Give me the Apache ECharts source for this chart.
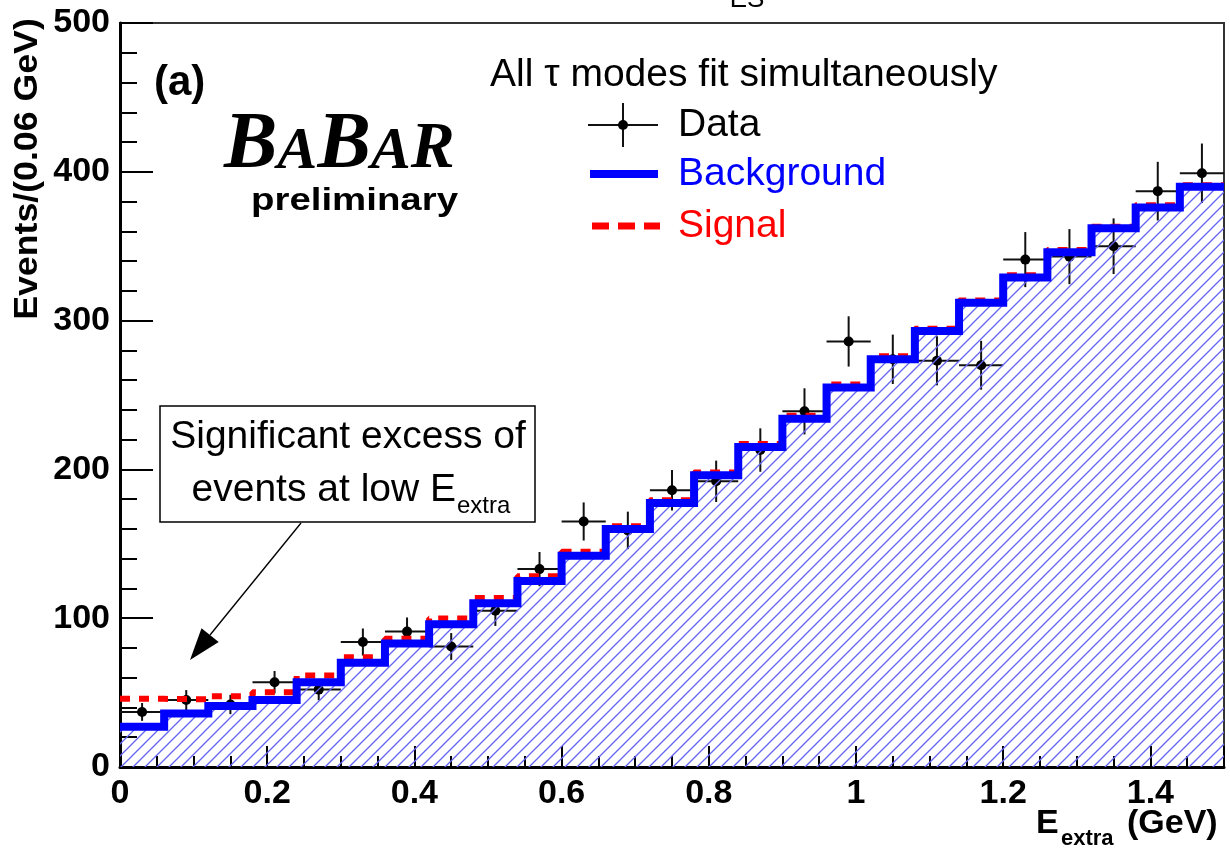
<!DOCTYPE html>
<html><head><meta charset="utf-8">
<script src="https://cdn.jsdelivr.net/npm/echarts@6/dist/echarts.min.js"></script>
<style>html,body{margin:0;padding:0;background:#fff}#c{width:1230px;height:857px}</style>
</head><body><div id="c"></div>
<script>
// ---- data ----
const binCenters = [0.03,0.09,0.15,0.21,0.27,0.33,0.39,0.45,0.51,0.57,0.63,0.69,0.75,0.81,0.87,0.93,0.99,1.05,1.11,1.17,1.23,1.29,1.35,1.41,1.47];
const binWidth = 0.06;
const backgroundCounts = [27,36,41,45,57,70,83,96,110,125,142,160,177.5,196,215,234,255,274,293,312,329,346,362,376,390];
const signalPlusBackground = [45.8,45.5,47.6,50.3,61.5,73.8,86.2,99.8,113.5,128.2,144.6,161.8,179.3,198,217,236,257,276,294.5,313.5,330.5,347.5,363,377.5,391];
const dataCounts = [37,45,42,57,52,84,91,81,105,133,165,159,186,192,213,239,286,274,273,270,341,343,350,387,399];
const dataErrors = [6,6.7,6.5,7.5,7.2,9.1,9.5,9,10.2,11.5,12.8,12.6,13.6,13.9,14.6,15.5,16.9,16.6,16.5,16.4,18.5,18.5,18.7,19.7,20];
const xTickValues = [0,0.2,0.4,0.6,0.8,1,1.2,1.4];
const yTickValues = [0,100,200,300,400,500];

const FONT = 'Liberation Sans, Arial, Helvetica, sans-serif';
const SERIF = 'Liberation Serif, Times New Roman, serif';

function stepPoints(vals){
  const pts = vals.map((v,i)=>[binCenters[i]-binWidth/2, v]);
  const n = vals.length-1;
  pts.push([binCenters[n]+binWidth/2, vals[n]]);
  return pts;
}
function makeHatch(){
  const s = 12;
  const c = document.createElement('canvas');
  c.width = s; c.height = s;
  const g = c.getContext('2d');
  g.strokeStyle = '#6464f2'; g.lineWidth = 1.3;
  g.beginPath();
  g.moveTo(0,s); g.lineTo(s,0);
  g.moveTo(-1,1); g.lineTo(1,-1);
  g.moveTo(s-1,s+1); g.lineTo(s+1,s-1);
  g.stroke();
  return c;
}

const chart = echarts.init(document.getElementById('c'), null, {renderer:'canvas'});
const tickStyle = {color:'#000', width:2};

const option = {
  animation:false,
  backgroundColor:'#fff',
  grid:{left:120,right:6,top:23,bottom:90,show:true,borderColor:'#333',borderWidth:2,backgroundColor:'transparent'},
  xAxis:{
    type:'value', min:0, max:1.5, interval:0.2,
    axisLine:{show:true,onZero:false,lineStyle:{color:'#000',width:3}},
    axisTick:{show:true,inside:true,length:21,lineStyle:tickStyle},
    minorTick:{show:true,splitNumber:4,length:11,lineStyle:tickStyle},
    splitLine:{show:false},
    axisLabel:{
      margin:10, color:'#000', fontSize:34, fontWeight:'bold', fontFamily:FONT,
      formatter:(v)=> xTickValues.some(t=>Math.abs(t-v)<1e-9) ? String(Math.round(v*10)/10) : ''
    }
  },
  yAxis:{
    type:'value', min:0, max:500, interval:100,
    axisLine:{show:true,onZero:false,lineStyle:{color:'#000',width:3}},
    axisTick:{show:true,inside:true,length:33,lineStyle:tickStyle},
    minorTick:{show:true,splitNumber:5,length:17,lineStyle:tickStyle},
    splitLine:{show:false},
    axisLabel:{
      margin:10, color:'#000', fontSize:34, fontWeight:'bold', fontFamily:FONT,
      padding:[6,0,0,0],
      formatter:(v)=> yTickValues.includes(v) ? String(v) : ''
    }
  },
  series:[
    {
      name:'BackgroundFill', type:'line', step:'end', symbol:'none',
      data: stepPoints(backgroundCounts),
      lineStyle:{width:0,opacity:0},
      areaStyle:{color:{image:makeHatch(),repeat:'repeat'},opacity:1}
    },
    {
      name:'Signal', type:'line', step:'end', symbol:'none',
      data: stepPoints(signalPlusBackground),
      lineStyle:{color:'#ff0000',width:6,type:[10,9]}
    },
    {
      name:'Background', type:'line', step:'end', symbol:'none',
      data: stepPoints(backgroundCounts),
      lineStyle:{color:'#0000ff',width:8,cap:'butt',join:'miter'}
    },
    {
      name:'Data', type:'custom',
      data: binCenters.map((x,i)=>[x,dataCounts[i],dataErrors[i]]),
      encode:{x:0,y:1},
      renderItem:(params, api)=>{
        const x = api.value(0), y = api.value(1), e = api.value(2);
        const c = api.coord([x,y]);
        const l = api.coord([x-binWidth/2,y]), r = api.coord([x+binWidth/2,y]);
        const t = api.coord([x,y+e]), b = api.coord([x,y-e]);
        return {type:'group', children:[
          {type:'line', shape:{x1:l[0],y1:l[1],x2:r[0],y2:r[1]}, style:{stroke:'#111',lineWidth:2}},
          {type:'line', shape:{x1:t[0],y1:t[1],x2:b[0],y2:b[1]}, style:{stroke:'#111',lineWidth:2}},
          {type:'circle', shape:{cx:c[0],cy:c[1],r:5}, style:{fill:'#000'}}
        ]};
      }
    }
  ],
  graphic:[
    // cut-off title subscript at the very top
    {type:'text', x:747, y:13, style:{text:'ES', fontSize:26, fontFamily:FONT, fill:'#000', align:'center', verticalAlign:'bottom'}},
    // y axis name
    {type:'text', x:28, y:169, rotation:Math.PI/2, scaleX:1.05,
     style:{text:'Events/(0.06 GeV)', fontSize:34, fontWeight:'bold', fontFamily:FONT, fill:'#000', align:'center', verticalAlign:'middle'}},
    // x axis name
    {type:'text', x:1036, y:824, style:{text:'E', fontSize:34, fontWeight:'bold', fontFamily:FONT, fill:'#000', align:'left', verticalAlign:'middle'}},
    {type:'text', x:1061, y:839, style:{text:'extra', fontSize:22, fontWeight:'bold', fontFamily:FONT, fill:'#000', align:'left', verticalAlign:'middle'}},
    {type:'text', x:1127, y:824, style:{text:'(GeV)', fontSize:34, fontWeight:'bold', fontFamily:FONT, fill:'#000', align:'left', verticalAlign:'middle'}},
    // (a)
    {type:'text', x:154, y:83, style:{text:'(a)', fontSize:42, fontWeight:'bold', fontFamily:FONT, fill:'#000', align:'left', verticalAlign:'middle'}},
    // BaBar logo
    {type:'text', x:224, y:186, style:{
      text:'{b|B}{a|A}{b|B}{a|A}{r|R}', align:'left', verticalAlign:'bottom',
      rich:{
        b:{fontSize:80, fontWeight:'bold', fontStyle:'italic', fontFamily:SERIF, fill:'#000', verticalAlign:'bottom'},
        a:{fontSize:60, fontWeight:'bold', fontStyle:'italic', fontFamily:SERIF, fill:'#000', verticalAlign:'bottom', padding:[0,0,4,0]},
        r:{fontSize:66, fontWeight:'bold', fontStyle:'italic', fontFamily:SERIF, fill:'#000', verticalAlign:'bottom', padding:[0,0,3,0]}
      }}},
    {type:'text', x:251, y:201, scaleX:1.2, style:{text:'preliminary', fontSize:32, fontWeight:'bold', fontFamily:FONT, fill:'#000', align:'left', verticalAlign:'middle'}},
    // legend
    {type:'text', x:490, y:75, style:{text:'All \u03c4 modes fit simultaneously', fontSize:39, fontFamily:FONT, fill:'#000', align:'left', verticalAlign:'middle'}},
    {type:'line', shape:{x1:588,y1:125,x2:658,y2:125}, style:{stroke:'#111',lineWidth:2}},
    {type:'line', shape:{x1:623,y1:103,x2:623,y2:147}, style:{stroke:'#111',lineWidth:2}},
    {type:'circle', shape:{cx:623,cy:125,r:5}, style:{fill:'#000'}},
    {type:'text', x:678, y:125, style:{text:'Data', fontSize:39, fontFamily:FONT, fill:'#000', align:'left', verticalAlign:'middle'}},
    {type:'line', shape:{x1:590,y1:174,x2:658,y2:174}, style:{stroke:'#0000ff',lineWidth:8}},
    {type:'text', x:678, y:174, style:{text:'Background', fontSize:39, fontFamily:FONT, fill:'#0000ff', align:'left', verticalAlign:'middle'}},
    {type:'line', shape:{x1:592,y1:226,x2:660,y2:226}, style:{stroke:'#ff0000',lineWidth:7,lineDash:[17,9]}},
    {type:'text', x:678, y:226, style:{text:'Signal', fontSize:39, fontFamily:FONT, fill:'#ff0000', align:'left', verticalAlign:'middle'}},
    // annotation box
    {type:'rect', shape:{x:160,y:406,width:375,height:116}, style:{fill:'#fff',stroke:'#000',lineWidth:1.5}},
    {type:'text', x:348, y:437, style:{text:'Significant excess of', fontSize:39, fontFamily:FONT, fill:'#000', align:'center', verticalAlign:'middle'}},
    {type:'text', x:456, y:490, style:{text:'events at low E', fontSize:39, fontFamily:FONT, fill:'#000', align:'right', verticalAlign:'middle'}},
    {type:'text', x:457, y:506, style:{text:'extra', fontSize:24, fontFamily:FONT, fill:'#000', align:'left', verticalAlign:'middle'}},
    // arrow
    {type:'line', shape:{x1:301,y1:523,x2:210,y2:635}, style:{stroke:'#000',lineWidth:1.3}},
    {type:'polygon', shape:{points:[[190,660],[218.7,642],[201.5,628.2]]}, style:{fill:'#000'}}
  ]
};
chart.setOption(option);
</script>
</body></html>
